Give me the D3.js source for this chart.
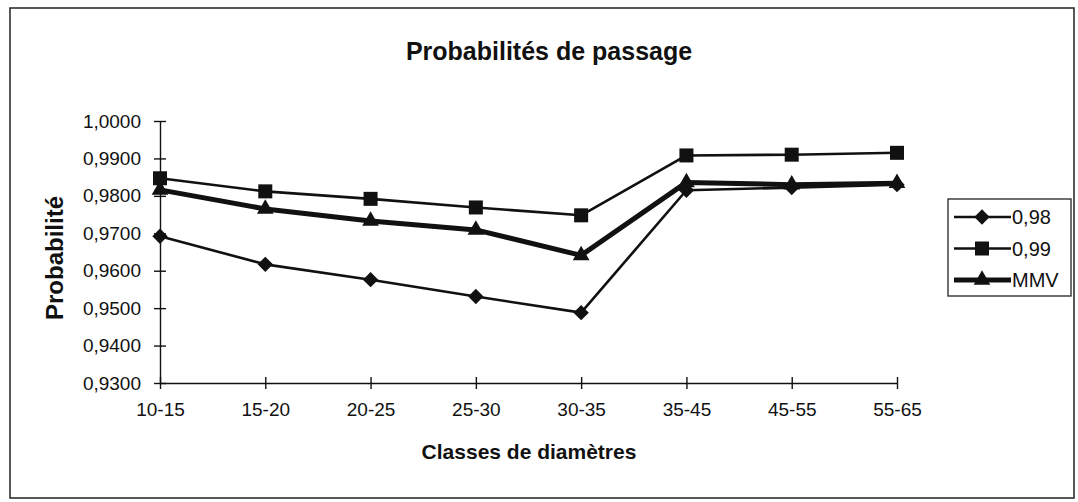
<!DOCTYPE html>
<html>
<head>
<meta charset="utf-8">
<script src="https://cdn.jsdelivr.net/npm/d3@7"></script>
<style>
  body { margin: 0; background: #fff; }
  text { font-family: "Liberation Sans", Arial, sans-serif; fill: #111; }
  .axis path, .axis line { stroke: #111; stroke-width: 1.4; }
  .axis text { font-size: 19px; }
</style>
</head>
<body>
<div id="chart"></div>
<script>

// data
var categories = ["10-15", "15-20", "20-25", "25-30", "30-35", "35-45", "45-55", "55-65"];
var p098 = [0.9692, 0.9617, 0.9576, 0.9531, 0.9488, 0.9815, 0.9822, 0.9830];
var p099 = [0.9847, 0.9812, 0.9792, 0.9769, 0.9748, 0.9908, 0.9910, 0.9915];
var mmv  = [0.9816, 0.9765, 0.9733, 0.9709, 0.9641, 0.9836, 0.9830, 0.9834];
var yTicks = [0.93, 0.94, 0.95, 0.96, 0.97, 0.98, 0.99, 1.0];
var seriesNames = ["0,98", "0,99", "MMV"];

var series = [
  {name: seriesNames[0], values: p098, symbol: "diamond", width: 2.6},
  {name: seriesNames[1], values: p099, symbol: "square", width: 2.6},
  {name: seriesNames[2], values: mmv, symbol: "triangle", width: 5}
];

// setup dimensions
var W = 1078, H = 502;
var plot = {left: 160, right: 897, top: 121, bottom: 383};

// add svg
var svg = d3.select("#chart").append("svg")
  .attr("width", W)
  .attr("height", H);

// outer frame
svg.append("rect")
  .attr("x", 10).attr("y", 8)
  .attr("width", 1064).attr("height", 490)
  .attr("fill", "none")
  .attr("stroke", "#222")
  .attr("stroke-width", 1.5);

// setup scales
var x = d3.scalePoint()
  .domain(categories)
  .range([plot.left, plot.right]);
var y = d3.scaleLinear()
  .domain([0.93, 1.0])
  .range([plot.bottom, plot.top]);

var fmt = function(d) { return d3.format(".4f")(d).replace(".", ","); };

// axes
var yAxis = svg.append("g")
  .attr("class", "axis axis--y")
  .attr("transform", "translate(" + plot.left + ",0)")
  .call(d3.axisLeft(y).tickValues(yTicks).tickFormat(fmt).tickSize(6).tickSizeOuter(0));
yAxis.selectAll(".tick line").attr("x1", 6).attr("x2", -6);
yAxis.selectAll(".tick text").attr("x", -19);

var xAxis = svg.append("g")
  .attr("class", "axis axis--x")
  .attr("transform", "translate(0," + plot.bottom + ")")
  .call(d3.axisBottom(x).tickSize(6).tickSizeOuter(0));
xAxis.selectAll(".tick line").attr("y1", -6).attr("y2", 6);
xAxis.selectAll(".tick text").attr("y", 20);

// titles
svg.append("text")
  .attr("x", 549).attr("y", 60)
  .attr("text-anchor", "middle")
  .style("font-size", "25px").style("font-weight", "bold")
  .text("Probabilités de passage");

svg.append("text")
  .attr("x", 529).attr("y", 459)
  .attr("text-anchor", "middle")
  .style("font-size", "21px").style("font-weight", "bold")
  .text("Classes de diamètres");

svg.append("text")
  .attr("transform", "translate(63,258) rotate(-90)")
  .attr("text-anchor", "middle")
  .style("font-size", "24px").style("font-weight", "bold")
  .text("Probabilité");

// marker shapes
var symbols = {
  diamond: d3.symbol().type(d3.symbolDiamond2).size(150),
  square: d3.symbol().type(d3.symbolSquare2).size(250),
  triangle: d3.symbol().type(d3.symbolTriangle2).size(200)
};

var valueline = d3.line()
  .x(function(d, i) { return x(categories[i]); })
  .y(function(d) { return y(d); });

// series lines and markers
var g = svg.selectAll("g.series")
  .data(series)
  .enter().append("g")
  .attr("class", "series");

g.append("path")
  .attr("d", function(d) { return valueline(d.values); })
  .attr("fill", "none")
  .attr("stroke", "#111")
  .attr("stroke-width", function(d) { return d.width; })
  .attr("stroke-linejoin", "round");

g.each(function(s) {
  d3.select(this).selectAll("path.marker")
    .data(s.values)
    .enter().append("path")
    .attr("class", "marker")
    .attr("d", symbols[s.symbol])
    .attr("fill", "#111")
    .attr("transform", function(d, i) { return "translate(" + x(categories[i]) + "," + y(d) + ")"; });
});

// legend
var legend = svg.append("g")
  .attr("transform", "translate(948,199)");
legend.append("rect")
  .attr("width", 123).attr("height", 97)
  .attr("fill", "#fff")
  .attr("stroke", "#222")
  .attr("stroke-width", 1.3);

var rows = legend.selectAll("g.row")
  .data(series)
  .enter().append("g")
  .attr("class", "row")
  .attr("transform", function(d, i) { return "translate(0," + (18 + i * 31.5) + ")"; });
rows.append("line")
  .attr("x1", 6).attr("x2", 63)
  .attr("stroke", "#111")
  .attr("stroke-width", function(d) { return d.width; });
rows.append("path")
  .attr("d", function(d) { return symbols[d.symbol](); })
  .attr("fill", "#111")
  .attr("transform", "translate(34,0)");
rows.append("text")
  .attr("x", 64).attr("dy", "0.35em")
  .style("font-size", "20px")
  .text(function(d) { return d.name; });

</script>
</body>
</html>
